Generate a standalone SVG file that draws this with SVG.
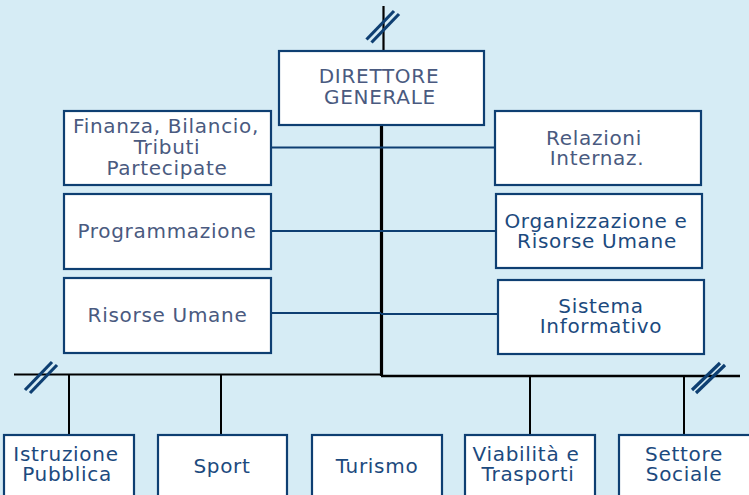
<svg xmlns="http://www.w3.org/2000/svg" width="749" height="495" viewBox="0 0 749 495">
<style>
.box{fill:#fff;stroke:#0e3f72;stroke-width:2.2}
.t{font-family:"DejaVu Sans",Verdana,sans-serif;font-size:20px;fill:#4a5a80;text-anchor:middle;letter-spacing:0.7px}
.b{fill:#1c4a7e}
.c{stroke:#0e3f72;stroke-width:2.2;fill:none}
.k{stroke:#000;fill:none}
.sl{stroke:#0e3f72;stroke-width:3.2;fill:none}
</style>
<rect width="749" height="495" fill="#d6ecf5"/>
<g id="connectors">
<line class="k" x1="383.5" y1="6" x2="383.5" y2="51" stroke-width="2.2"/>
<line class="k" x1="381.5" y1="125" x2="381.5" y2="376" stroke-width="3.2"/>
<line class="c" x1="271" y1="147.5" x2="495" y2="147.5"/>
<line class="c" x1="271" y1="231" x2="496" y2="231"/>
<line class="c" x1="271" y1="313" x2="381" y2="313"/>
<line class="c" x1="381" y1="314" x2="498" y2="314"/>
<line class="k" x1="14" y1="374.5" x2="381" y2="374.5" stroke-width="2"/>
<line class="k" x1="381" y1="376" x2="740" y2="376" stroke-width="2.4"/>
<line class="k" x1="69" y1="374" x2="69" y2="435" stroke-width="2"/>
<line class="k" x1="221" y1="374" x2="221" y2="435" stroke-width="2"/>
<line class="k" x1="530" y1="376" x2="530" y2="435" stroke-width="2"/>
<line class="k" x1="684" y1="376" x2="684" y2="435" stroke-width="2"/>
<line class="sl" x1="366.5" y1="39.5" x2="394" y2="11"/>
<line class="sl" x1="371.5" y1="42.5" x2="399" y2="14"/>
<line class="sl" x1="25" y1="390" x2="52" y2="362"/>
<line class="sl" x1="30" y1="393" x2="57" y2="365"/>
<line class="sl" x1="692" y1="390" x2="720" y2="363"/>
<line class="sl" x1="696" y1="393" x2="725" y2="365"/>
</g>
<g id="direttore">
<rect class="box" x="279" y="51" width="205" height="74"/>
<text class="t" x="379" y="83">DIRETTORE</text>
<text class="t" x="380" y="104">GENERALE</text>
</g>
<g id="finanza">
<rect class="box" x="64" y="111" width="207" height="74"/>
<text class="t" x="166" y="133">Finanza, Bilancio,</text>
<text class="t" x="167" y="154">Tributi</text>
<text class="t" x="167" y="175">Partecipate</text>
</g>
<g id="programmazione">
<rect class="box" x="64" y="194" width="207" height="75"/>
<text class="t" x="167" y="238">Programmazione</text>
</g>
<g id="risorse">
<rect class="box" x="64" y="278" width="207" height="75"/>
<text class="t" x="167.5" y="322">Risorse Umane</text>
</g>
<g id="relazioni">
<rect class="box" x="495" y="111" width="206" height="74"/>
<text class="t" x="594" y="145">Relazioni</text>
<text class="t" x="597" y="165">Internaz.</text>
</g>
<g id="organizzazione">
<rect class="box" x="496" y="194" width="206" height="74"/>
<text class="t b" x="596" y="228">Organizzazione e</text>
<text class="t b" x="597" y="248">Risorse Umane</text>
</g>
<g id="sistema">
<rect class="box" x="498" y="280" width="206" height="74"/>
<text class="t b" x="601" y="313">Sistema</text>
<text class="t b" x="601" y="333">Informativo</text>
</g>
<g id="istruzione">
<rect class="box" x="4" y="435" width="130" height="70"/>
<text class="t b" x="66" y="461">Istruzione</text>
<text class="t b" x="67" y="481">Pubblica</text>
</g>
<g id="sport">
<rect class="box" x="158" y="435" width="129" height="70"/>
<text class="t b" x="222" y="473">Sport</text>
</g>
<g id="turismo">
<rect class="box" x="312" y="435" width="130" height="70"/>
<text class="t b" x="377" y="473">Turismo</text>
</g>
<g id="viabilita">
<rect class="box" x="465" y="435" width="130" height="70"/>
<text class="t b" x="526" y="461">Viabilità e</text>
<text class="t b" x="528" y="481">Trasporti</text>
</g>
<g id="settore">
<rect class="box" x="619" y="435" width="132" height="70"/>
<text class="t b" x="684" y="461">Settore</text>
<text class="t b" x="684" y="481">Sociale</text>
</g>
</svg>
